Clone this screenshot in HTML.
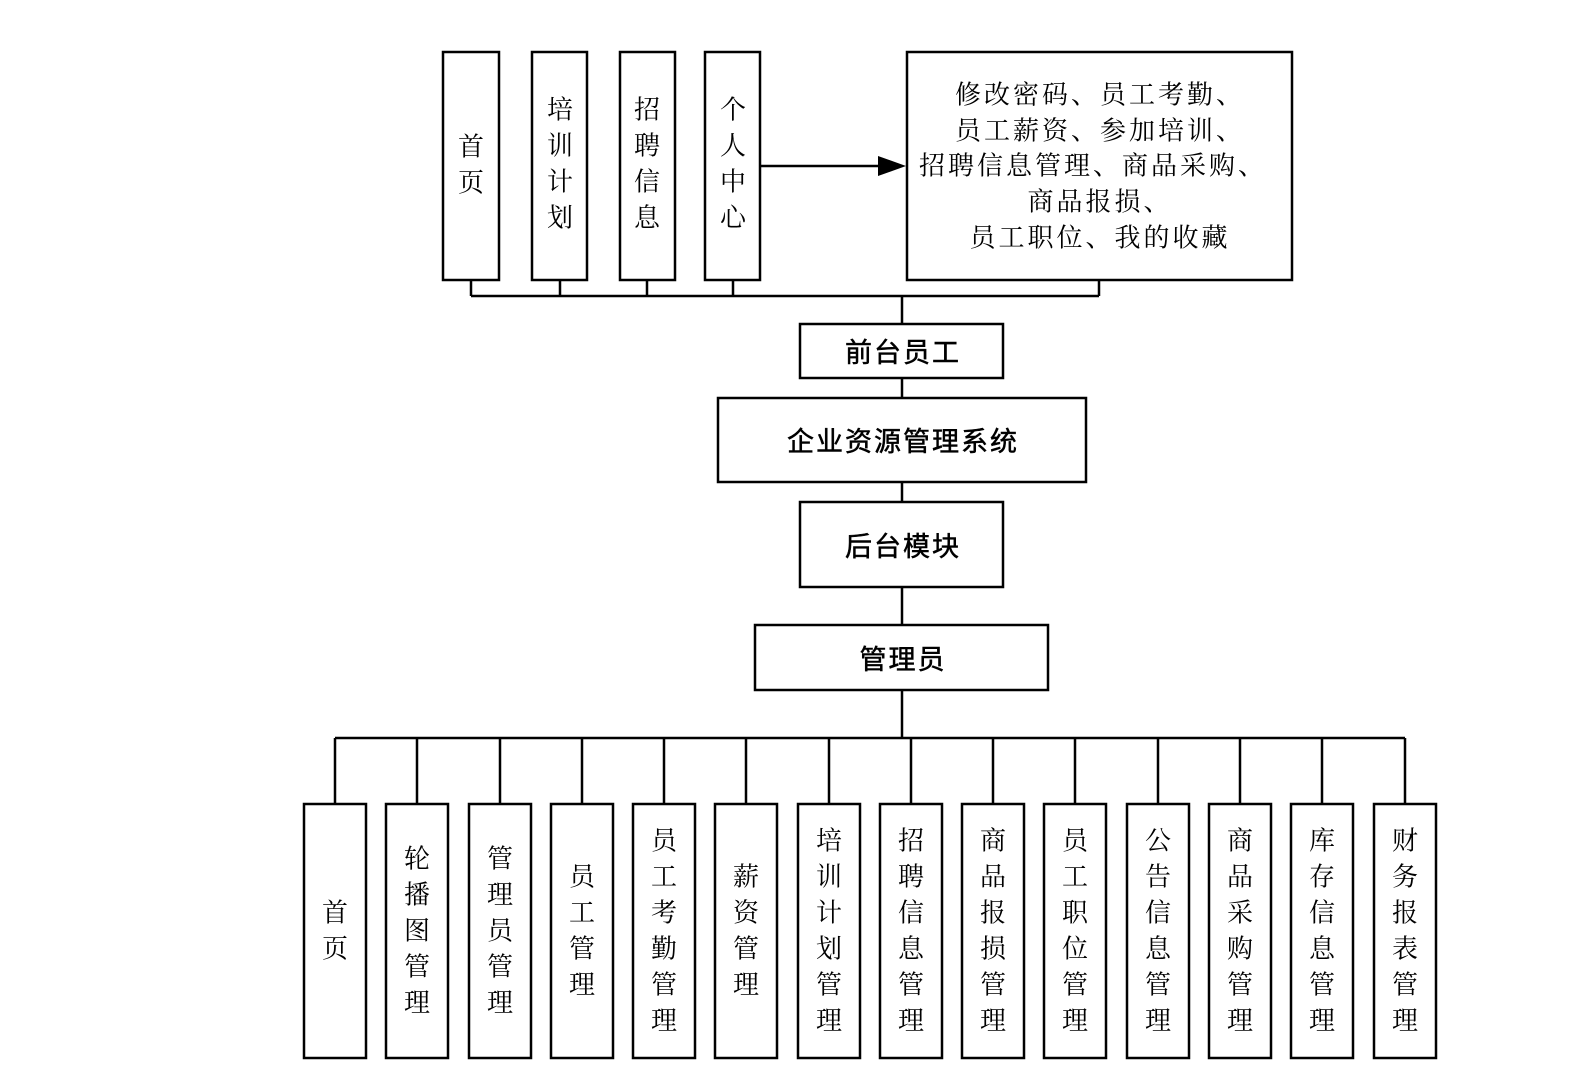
<!DOCTYPE html>
<html><head><meta charset="utf-8"><style>
html,body{margin:0;padding:0;background:#fff;}
svg{display:block;}
text{font-family:"Liberation Serif","Noto Serif CJK SC",serif;fill:#000;}
text.s{font-family:"Liberation Sans","Noto Sans CJK SC",sans-serif;}
</style></head><body>
<svg width="1593" height="1075" viewBox="0 0 1593 1075" xmlns="http://www.w3.org/2000/svg">
<g fill="none" stroke="#000" stroke-width="2.5">
<rect x="443" y="52" width="56" height="228"/>
<rect x="532" y="52" width="55" height="228"/>
<rect x="620" y="52" width="55" height="228"/>
<rect x="705" y="52" width="55" height="228"/>
<rect x="907" y="52" width="385" height="228"/>
<path d="M471 280V296M560 280V296M647 280V296M733 280V296M1099 280V296M471 296H1099M902 296V324"/>
<line x1="760" y1="166" x2="880" y2="166"/>
<rect x="800" y="324" width="203" height="54"/>
<line x1="902" y1="378" x2="902" y2="398"/>
<rect x="718" y="398" width="368" height="84"/>
<line x1="902" y1="482" x2="902" y2="502"/>
<rect x="800" y="502" width="203" height="85"/>
<line x1="902" y1="587" x2="902" y2="625"/>
<rect x="755" y="625" width="293" height="65"/>
<line x1="902" y1="690" x2="902" y2="738"/>
<line x1="335" y1="738" x2="1405" y2="738"/>
<path d="M335 738V804M417 738V804M500 738V804M582 738V804M664 738V804M746 738V804M829 738V804M911 738V804M993 738V804M1075 738V804M1158 738V804M1240 738V804M1322 738V804M1405 738V804"/>
<rect x="304" y="804" width="62" height="254"/>
<rect x="386" y="804" width="62" height="254"/>
<rect x="469" y="804" width="62" height="254"/>
<rect x="551" y="804" width="62" height="254"/>
<rect x="633" y="804" width="62" height="254"/>
<rect x="715" y="804" width="62" height="254"/>
<rect x="798" y="804" width="62" height="254"/>
<rect x="880" y="804" width="62" height="254"/>
<rect x="962" y="804" width="62" height="254"/>
<rect x="1044" y="804" width="62" height="254"/>
<rect x="1127" y="804" width="62" height="254"/>
<rect x="1209" y="804" width="62" height="254"/>
<rect x="1291" y="804" width="62" height="254"/>
<rect x="1374" y="804" width="62" height="254"/>
</g>
<polygon points="878,156 906,166 878,176" fill="#000"/>
<g font-size="26" text-anchor="middle" dominant-baseline="central">
<text x="471" y="147">首</text><text x="471" y="183">页</text>
<text x="560" y="110">培</text><text x="560" y="146">训</text><text x="560" y="182">计</text><text x="560" y="218">划</text>
<text x="647" y="110">招</text><text x="647" y="146">聘</text><text x="647" y="182">信</text><text x="647" y="218">息</text>
<text x="733" y="110">个</text><text x="733" y="146">人</text><text x="733" y="182">中</text><text x="733" y="218">心</text>
</g>
<g font-size="26" text-anchor="middle" dominant-baseline="central" letter-spacing="3">
<text x="1100" y="95">修改密码、员工考勤、</text>
<text x="1100" y="131">员工薪资、参加培训、</text>
<text x="1093" y="166">招聘信息管理、商品采购、</text>
<text x="1100" y="202">商品报损、</text>
<text x="1100" y="238">员工职位、我的收藏</text>
</g>
<g font-size="27" text-anchor="middle" dominant-baseline="central" letter-spacing="2" stroke="#000" stroke-width="0.5">
<text class="s" x="903" y="353">前台员工</text>
<text class="s" x="903" y="442">企业资源管理系统</text>
<text class="s" x="903" y="547">后台模块</text>
<text class="s" x="903" y="660">管理员</text>
</g>
<g font-size="26" text-anchor="middle" dominant-baseline="central">
<text x="335" y="913">首</text><text x="335" y="949">页</text>
<text x="417" y="859">轮</text><text x="417" y="895">播</text><text x="417" y="931">图</text><text x="417" y="967">管</text><text x="417" y="1003">理</text>
<text x="500" y="859">管</text><text x="500" y="895">理</text><text x="500" y="931">员</text><text x="500" y="967">管</text><text x="500" y="1003">理</text>
<text x="582" y="877">员</text><text x="582" y="913">工</text><text x="582" y="949">管</text><text x="582" y="985">理</text>
<text x="664" y="841">员</text><text x="664" y="877">工</text><text x="664" y="913">考</text><text x="664" y="949">勤</text><text x="664" y="985">管</text><text x="664" y="1021">理</text>
<text x="746" y="877">薪</text><text x="746" y="913">资</text><text x="746" y="949">管</text><text x="746" y="985">理</text>
<text x="829" y="841">培</text><text x="829" y="877">训</text><text x="829" y="913">计</text><text x="829" y="949">划</text><text x="829" y="985">管</text><text x="829" y="1021">理</text>
<text x="911" y="841">招</text><text x="911" y="877">聘</text><text x="911" y="913">信</text><text x="911" y="949">息</text><text x="911" y="985">管</text><text x="911" y="1021">理</text>
<text x="993" y="841">商</text><text x="993" y="877">品</text><text x="993" y="913">报</text><text x="993" y="949">损</text><text x="993" y="985">管</text><text x="993" y="1021">理</text>
<text x="1075" y="841">员</text><text x="1075" y="877">工</text><text x="1075" y="913">职</text><text x="1075" y="949">位</text><text x="1075" y="985">管</text><text x="1075" y="1021">理</text>
<text x="1158" y="841">公</text><text x="1158" y="877">告</text><text x="1158" y="913">信</text><text x="1158" y="949">息</text><text x="1158" y="985">管</text><text x="1158" y="1021">理</text>
<text x="1240" y="841">商</text><text x="1240" y="877">品</text><text x="1240" y="913">采</text><text x="1240" y="949">购</text><text x="1240" y="985">管</text><text x="1240" y="1021">理</text>
<text x="1322" y="841">库</text><text x="1322" y="877">存</text><text x="1322" y="913">信</text><text x="1322" y="949">息</text><text x="1322" y="985">管</text><text x="1322" y="1021">理</text>
<text x="1405" y="841">财</text><text x="1405" y="877">务</text><text x="1405" y="913">报</text><text x="1405" y="949">表</text><text x="1405" y="985">管</text><text x="1405" y="1021">理</text>
</g>
</svg>
</body></html>
